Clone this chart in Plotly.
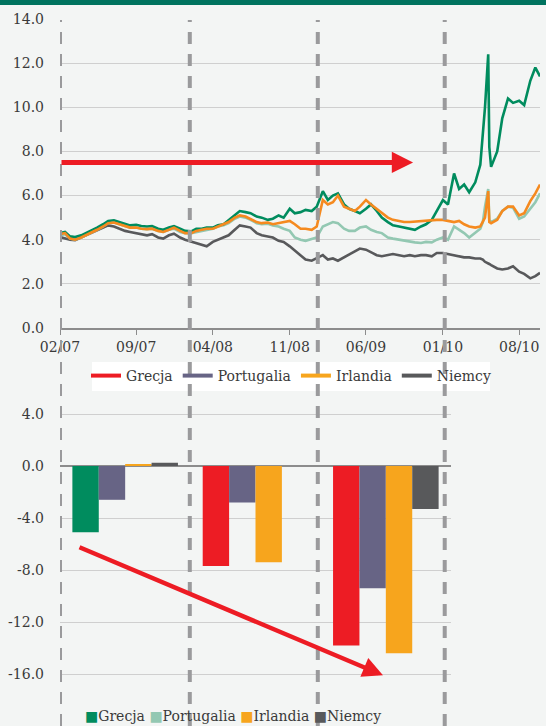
import plotly.graph_objects as go

# ---------------- data: top panel (10y bond yields, %) ----------------
dates = [
    "2007-02-01", "2007-02-15", "2007-03-01", "2007-03-15", "2007-04-01", "2007-04-15",
    "2007-05-01", "2007-05-15", "2007-06-01", "2007-06-15", "2007-07-01", "2007-07-15",
    "2007-08-01", "2007-08-15", "2007-09-01", "2007-09-15", "2007-10-01", "2007-10-15",
    "2007-11-01", "2007-11-15", "2007-12-01", "2007-12-15",
    "2008-01-01", "2008-01-15", "2008-02-01", "2008-02-15", "2008-03-01", "2008-03-15",
    "2008-04-01", "2008-04-15", "2008-05-01", "2008-05-15", "2008-06-01", "2008-06-15",
    "2008-07-01", "2008-07-15", "2008-08-01", "2008-08-15", "2008-09-01", "2008-09-15",
    "2008-10-01", "2008-10-15", "2008-11-01", "2008-11-15", "2008-12-01", "2008-12-15",
    "2009-01-01", "2009-01-15", "2009-02-01", "2009-02-15", "2009-03-01", "2009-03-15",
    "2009-04-01", "2009-04-15", "2009-05-01", "2009-05-15", "2009-06-01", "2009-06-15",
    "2009-07-01", "2009-07-15", "2009-08-01", "2009-08-15", "2009-09-01", "2009-09-15",
    "2009-10-01", "2009-10-15", "2009-11-01", "2009-11-15", "2009-12-01", "2009-12-15",
    "2010-01-01", "2010-01-15", "2010-02-01", "2010-02-15", "2010-03-01", "2010-03-15",
    "2010-04-01", "2010-04-15", "2010-04-22", "2010-04-28", "2010-05-07", "2010-05-10",
    "2010-05-15", "2010-06-01", "2010-06-15", "2010-07-01", "2010-07-15", "2010-08-01",
    "2010-08-15", "2010-09-01", "2010-09-15", "2010-09-28",
]

grecja = [
    4.30, 4.35, 4.15, 4.12, 4.20, 4.30, 4.45, 4.55, 4.70, 4.85, 4.88, 4.80,
    4.70, 4.65, 4.68, 4.62, 4.60, 4.62, 4.50, 4.45, 4.55, 4.62,
    4.50, 4.40, 4.38, 4.50, 4.50, 4.55, 4.55, 4.65, 4.70, 4.90, 5.10, 5.30,
    5.25, 5.20, 5.05, 5.00, 4.90, 4.95, 5.10, 5.00, 5.40, 5.20, 5.25, 5.35,
    5.30, 5.50, 6.20, 5.80, 6.00, 6.10, 5.60, 5.40, 5.30, 5.20, 5.40, 5.60,
    5.30, 5.00, 4.80, 4.65, 4.60, 4.55, 4.50, 4.45, 4.60, 4.70, 4.90, 5.30,
    5.80, 5.60, 7.00, 6.30, 6.50, 6.15, 6.60, 7.40, 8.80, 10.00, 12.40, 8.20,
    7.30, 8.00, 9.50, 10.40, 10.20, 10.30, 10.10, 11.20, 11.80, 11.40,
]

irlandia = [
    4.25, 4.30, 4.05, 4.00, 4.10, 4.20, 4.35, 4.45, 4.60, 4.75, 4.78, 4.70,
    4.60, 4.55, 4.55, 4.50, 4.48, 4.50, 4.40, 4.35, 4.45, 4.55,
    4.40, 4.30, 4.30, 4.40, 4.45, 4.50, 4.50, 4.60, 4.70, 4.80, 5.00, 5.10,
    5.05, 4.95, 4.80, 4.75, 4.78, 4.70, 4.75, 4.80, 4.85, 4.70, 4.50, 4.50,
    4.45, 4.60, 5.80, 5.60, 5.70, 6.00, 5.50, 5.40, 5.30, 5.50, 5.80, 5.60,
    5.40, 5.20, 5.00, 4.90, 4.85, 4.80, 4.80, 4.82, 4.85, 4.85, 4.90, 4.90,
    4.90, 4.85, 4.80, 4.85, 4.70, 4.60, 4.55, 4.60, 4.80, 5.00, 6.20, 4.80,
    4.75, 4.90, 5.30, 5.50, 5.50, 5.10, 5.20, 5.75, 6.10, 6.50,
]

portugalia = [
    4.20, 4.25, 4.05, 4.00, 4.10, 4.20, 4.35, 4.45, 4.60, 4.75, 4.78, 4.70,
    4.60, 4.55, 4.55, 4.50, 4.48, 4.50, 4.40, 4.35, 4.45, 4.50,
    4.35, 4.30, 4.30, 4.35, 4.40, 4.45, 4.50, 4.60, 4.65, 4.75, 4.95, 5.05,
    5.00, 4.90, 4.75, 4.70, 4.72, 4.65, 4.60, 4.50, 4.40, 4.10, 4.00, 3.95,
    4.05, 4.10, 4.60, 4.70, 4.80, 4.75, 4.50, 4.40, 4.40, 4.55, 4.60, 4.45,
    4.35, 4.30, 4.10, 4.05, 4.00, 3.95, 3.92, 3.88, 3.85, 3.90, 3.88, 4.00,
    4.10, 4.00, 4.60, 4.45, 4.30, 4.10, 4.30, 4.50, 4.80, 5.50, 6.30, 4.90,
    4.80, 4.95, 5.30, 5.50, 5.45, 4.95, 5.05, 5.40, 5.70, 6.10,
]

niemcy = [
    4.12, 4.05, 4.00, 3.98, 4.10, 4.20, 4.30, 4.40, 4.55, 4.65, 4.60, 4.50,
    4.40, 4.35, 4.30, 4.25, 4.20, 4.25, 4.10, 4.05, 4.20, 4.27,
    4.10, 4.00, 3.92, 3.85, 3.75, 3.70, 3.90, 4.00, 4.10, 4.20, 4.45, 4.65,
    4.60, 4.55, 4.30, 4.20, 4.15, 4.10, 3.95, 3.90, 3.70, 3.50, 3.30, 3.10,
    3.05, 3.15, 3.30, 3.10, 3.15, 3.05, 3.20, 3.30, 3.45, 3.60, 3.55, 3.45,
    3.30, 3.25, 3.30, 3.35, 3.30, 3.25, 3.30, 3.25, 3.30, 3.30, 3.25, 3.40,
    3.40, 3.35, 3.30, 3.25, 3.20, 3.20, 3.15, 3.15, 3.10, 3.00, 2.95, 2.90,
    2.85, 2.70, 2.65, 2.70, 2.80, 2.55, 2.45, 2.25, 2.35, 2.50,
]

x_tick_dates = ["2007-02-01", "2007-09-01", "2008-04-01", "2008-11-01",
                "2009-06-01", "2010-01-01", "2010-08-01"]
x_tick_labels = ["02/07", "09/07", "04/08", "11/08", "06/09", "01/10", "08/10"]
y1_ticks = [0, 2, 4, 6, 8, 10, 12, 14]
y1_labels = ["0.0", "2.0", "4.0", "6.0", "8.0", "10.0", "12.0", "14.0"]

event_dates = ["2007-02-01", "2008-01-28", "2009-01-18", "2010-01-06"]

# ---------------- data: bottom panel (changes) ----------------
periods = ["I", "II", "III"]
grecja_chg = [-5.1, -7.7, -13.8]
portugalia_chg = [-2.6, -2.8, -9.4]
irlandia_chg = [0.1, -7.4, -14.4]
niemcy_chg = [0.25, 0.0, -3.3]
y2_ticks = [4, 0, -4, -8, -12, -16]
y2_labels = ["4.0", "0.0", "-4.0", "-8.0", "-12.0", "-16.0"]
legend2_names = ["Grecja", "Portugalia", "Irlandia", "Niemcy"]

# ---------------- styling ----------------
GREEN = "#008C5E"
RED = "#ED1C24"
PURPLE = "#676485"
ORANGE_BAR = "#F7A51D"
ORANGE_LINE = "#F58A1F"
DARK = "#58595B"
TEAL = "#93C8B2"
BG = "#F3F5F4"
TXT = "#3a3a3a"
GRID = "#cfcfcf"
AXIS = "#8c8c8c"
DASH = "#9a9a9c"
FONT = "DejaVu Serif"
FS = 14

W, H = 546, 726

fig = go.Figure()

# top-panel lines
for name, vals, col in [("Niemcy", niemcy, DARK), ("Portugalia", portugalia, TEAL),
                        ("Grecja", grecja, GREEN), ("Irlandia", irlandia, ORANGE_LINE)]:
    fig.add_trace(go.Scatter(x=dates, y=vals, mode="lines", name=name,
                             line=dict(color=col, width=2.6), showlegend=False,
                             xaxis="x", yaxis="y"))

# top legend entries (as in the original legend)
for name, col in [("Grecja", RED), ("Portugalia", PURPLE),
                  ("Irlandia", ORANGE_BAR), ("Niemcy", DARK)]:
    fig.add_trace(go.Scatter(x=[None], y=[None], mode="lines", name=name,
                             line=dict(color=col, width=4), legend="legend",
                             xaxis="x", yaxis="y"))

# bottom-panel bars
fig.add_trace(go.Bar(x=periods, y=grecja_chg, name="Grecja",
                     marker=dict(color=[GREEN, RED, RED], line=dict(width=0)),
                     showlegend=False, xaxis="x2", yaxis="y2"))
fig.add_trace(go.Bar(x=periods, y=portugalia_chg, name="Portugalia",
                     marker=dict(color=PURPLE, line=dict(width=0)),
                     showlegend=False, xaxis="x2", yaxis="y2"))
fig.add_trace(go.Bar(x=periods, y=irlandia_chg, name="Irlandia",
                     marker=dict(color=ORANGE_BAR, line=dict(width=0)),
                     showlegend=False, xaxis="x2", yaxis="y2"))
fig.add_trace(go.Bar(x=periods, y=niemcy_chg, name="Niemcy",
                     marker=dict(color=DARK, line=dict(width=0)),
                     showlegend=False, xaxis="x2", yaxis="y2"))

shapes = [
    # top band
    dict(type="rect", xref="paper", yref="paper", x0=0, x1=1, y0=1 - 5 / H, y1=1,
         fillcolor="#00735F", line=dict(width=0), layer="above"),
    # white legend box
    dict(type="rect", xref="paper", yref="paper", x0=92 / W, x1=490 / W,
         y0=(H - 391) / H, y1=(H - 362) / H, fillcolor="white",
         line=dict(width=0), layer="above"),
]
for d in event_dates:
    shapes.append(dict(type="line", xref="x", yref="paper", x0=d, x1=d,
                       y0=0, y1=(H - 20) / H, layer="above",
                       line=dict(color=DASH, width=4, dash="12px,10px")))

# compact legend of the bar panel (coloured squares + names)
legend2_colors = [GREEN, TEAL, ORANGE_BAR, DARK]
legend2_text = "&nbsp;".join(
    f"<span style='color:{c}'>■</span>{n}" for c, n in zip(legend2_colors, legend2_names)
)

annotations = [
    dict(x="2009-10-10", y=7.5, ax="2007-02-01", ay=7.5, xref="x", yref="y",
         axref="x", ayref="y", text="", showarrow=True, arrowhead=2,
         arrowsize=0.85, arrowwidth=5, arrowcolor=RED, standoff=0),
    dict(x=1.978, y=-16.1, ax=-0.362, ay=-6.2, xref="x2", yref="y2",
         axref="x2", ayref="y2", text="", showarrow=True, arrowhead=2,
         arrowsize=0.9, arrowwidth=4.5, arrowcolor=RED, standoff=0),
    dict(x=83 / W, y=(H - 716) / H, xref="paper", yref="paper",
         xanchor="left", yanchor="middle", showarrow=False,
         text=legend2_text, font=dict(family=FONT, size=FS, color=TXT)),
]

tickfont = dict(family=FONT, size=FS, color=TXT)

fig.update_layout(
    width=W, height=H,
    margin=dict(l=0, r=0, t=0, b=0, pad=0, autoexpand=False),
    paper_bgcolor=BG, plot_bgcolor=BG,
    font=dict(family=FONT, size=FS, color=TXT),
    barmode="group", bargap=0.19, bargroupgap=0,
    xaxis=dict(domain=[60 / W, 540 / W], anchor="y", type="date",
               range=["2007-02-01", "2010-09-28"],
               tickvals=x_tick_dates, ticktext=x_tick_labels,
               ticks="outside", ticklen=5, tickcolor=AXIS, tickwidth=1,
               showline=True, linecolor=AXIS, linewidth=2,
               showgrid=False, zeroline=False, tickfont=tickfont),
    yaxis=dict(domain=[(H - 328) / H, (H - 19) / H], anchor="x",
               range=[0, 14], tickvals=y1_ticks, ticktext=y1_labels,
               showgrid=True, gridcolor=GRID, gridwidth=1, zeroline=False,
               showline=False, ticks="", ticklabelstandoff=15,
               tickfont=tickfont),
    xaxis2=dict(domain=[60 / W, 451 / W], anchor="y2", type="category",
                range=[-0.5, 2.5], showticklabels=False, showgrid=False,
                zeroline=False, showline=False, ticks=""),
    yaxis2=dict(domain=[26 / H, 338 / H], anchor="x2", range=[-18, 6],
                tickvals=y2_ticks, ticktext=y2_labels,
                showgrid=True, gridcolor=GRID, gridwidth=1,
                zeroline=True, zerolinecolor=AXIS, zerolinewidth=2,
                showline=False, ticks="", ticklabelstandoff=15,
                tickfont=tickfont),
    legend=dict(orientation="h", x=291 / W, xanchor="center",
                y=(H - 376) / H, yanchor="middle", bgcolor="rgba(0,0,0,0)",
                font=dict(family=FONT, size=FS, color=TXT), itemwidth=30,
                tracegroupgap=0),
    shapes=shapes,
    annotations=annotations,
    showlegend=True,
)

fig.write_html(
    "out.html",
    config={"displayModeBar": False},
    post_script="document.body.style.margin='0';document.body.style.overflow='hidden';",
)
